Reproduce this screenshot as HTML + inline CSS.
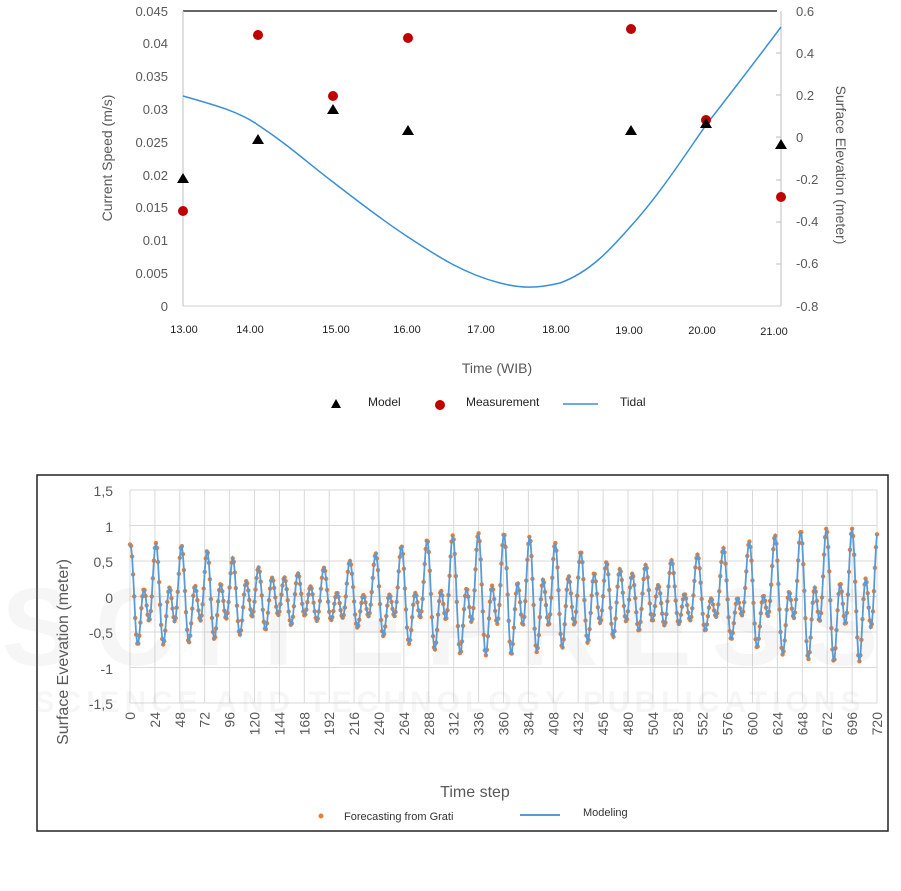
<!DOCTYPE html>
<html><head><meta charset="utf-8"><style>
body{margin:0;background:#fff;width:901px;height:886px;overflow:hidden}
svg text{font-family:"Liberation Sans",sans-serif}
</style></head><body>
<svg id="s" width="901" height="886" xmlns="http://www.w3.org/2000/svg">
<g font-size="13" fill="#595959">
<line x1="183" y1="11" x2="777" y2="11" stroke="#333" stroke-width="1.5"/>
<line x1="183" y1="11" x2="183" y2="306" stroke="#bfbfbf"/>
<line x1="183" y1="306" x2="781" y2="306" stroke="#d0d0d0"/>
<line x1="781" y1="11" x2="781" y2="306" stroke="#bfbfbf"/>
<g text-anchor="end">
<text x="168" y="16">0.045</text><text x="168" y="48">0.04</text><text x="168" y="81">0.035</text>
<text x="168" y="114">0.03</text><text x="168" y="147">0.025</text><text x="168" y="180">0.02</text>
<text x="168" y="212">0.015</text><text x="168" y="245">0.01</text><text x="168" y="278">0.005</text>
<text x="168" y="311">0</text></g>
<g>
<text x="796" y="16">0.6</text><text x="796" y="58">0.4</text><text x="796" y="100">0.2</text>
<text x="796" y="142">0</text><text x="796" y="184">-0.2</text><text x="796" y="226">-0.4</text>
<text x="796" y="268">-0.6</text><text x="796" y="311">-0.8</text></g>
<g stroke="#bfbfbf"><line x1="776" y1="53" x2="781" y2="53"/><line x1="776" y1="95" x2="781" y2="95"/><line x1="776" y1="137" x2="781" y2="137"/><line x1="776" y1="180" x2="781" y2="180"/><line x1="776" y1="222" x2="781" y2="222"/><line x1="776" y1="264" x2="781" y2="264"/></g>
<g font-family="Liberation Serif" font-size="11" fill="#222" text-anchor="middle">
<text x="184" y="333">13.00</text><text x="250" y="333">14.00</text><text x="336" y="333">15.00</text>
<text x="407" y="333">16.00</text><text x="481" y="333">17.00</text><text x="556" y="333">18.00</text>
<text x="629" y="334">19.00</text><text x="702" y="334">20.00</text><text x="774" y="335">21.00</text></g>
<text x="497" y="373" text-anchor="middle" font-size="14">Time (WIB)</text>
<text transform="translate(112,158) rotate(-90)" text-anchor="middle" font-size="14">Current Speed (m/s)</text>
<text transform="translate(836,165) rotate(90)" text-anchor="middle" font-size="14">Surface Elevation (meter)</text>
</g>
<path d="M183,96 C215,105 240,112 258,125 C290,146 310,165 333,182 C360,203 385,222 408,237 C440,258 465,274 500,283 C520,288 535,289 560,283 C590,272 610,250 631,226 C660,194 685,155 706,125 C735,88 760,55 781,27" fill="none" stroke="#3a8fd6" stroke-width="1.5"/>
<g fill="#c00000"><circle cx="183" cy="211" r="5"/><circle cx="258" cy="35" r="5"/><circle cx="333" cy="96" r="5"/><circle cx="408" cy="38" r="5"/><circle cx="631" cy="29" r="5"/><circle cx="706" cy="120" r="5"/><circle cx="781" cy="197" r="5"/></g>
<g fill="#000" id="tri"></g>
<g font-family="Liberation Serif" font-size="12" fill="#222">
<path d="M336,399 l5,9 h-10z" fill="#000"/><text x="368" y="406">Model</text>
<circle cx="440" cy="405" r="5" fill="#c00000"/><text x="466" y="406">Measurement</text>
<line x1="563" y1="404" x2="598" y2="404" stroke="#3a8fd6" stroke-width="1.5"/><text x="620" y="406">Tidal</text>
</g>
<rect x="37" y="475" width="851" height="356" fill="none" stroke="#222" stroke-width="1.5"/>
<g id="grid" stroke="#d9d9d9" stroke-width="1"></g>
<g id="data"></g>
<g font-size="14" fill="#595959" text-anchor="end">
<text x="113" y="496">1,5</text><text x="113" y="532">1</text><text x="113" y="567">0,5</text>
<text x="113" y="603">0</text><text x="113" y="638">-0,5</text><text x="113" y="674">-1</text><text x="113" y="709">-1,5</text>
</g>
<g id="xl" font-size="14" fill="#595959"></g>
<text transform="translate(68,652) rotate(-90)" text-anchor="middle" font-size="16" fill="#595959">Surface Evevation (meter)</text>
<text x="475" y="797" text-anchor="middle" font-size="16" fill="#595959">Time step</text>
<circle cx="321" cy="816" r="2.5" fill="#ed7d31"/>
<text x="344" y="820" font-size="11" fill="#333">Forecasting from Grati</text>
<line x1="520" y1="815" x2="560" y2="815" stroke="#5b9bd5" stroke-width="2"/>
<text x="583" y="816" font-size="11" fill="#333">Modeling</text>
<g fill="#888" opacity="0.07" font-weight="bold">
<text x="450" y="665" text-anchor="middle" font-size="110" letter-spacing="20">SCITEPRESS</text>
<text x="450" y="712" text-anchor="middle" font-size="30" letter-spacing="5">SCIENCE AND TECHNOLOGY PUBLICATIONS</text>
</g>
</svg>
<script>
var NS="http://www.w3.org/2000/svg";
function el(p,t,a){var e=document.createElementNS(NS,t);for(var k in a)e.setAttribute(k,a[k]);p.appendChild(e);return e;}
var tri=document.getElementById('tri');
[[183,179],[258,140],[333,110],[408,131],[631,131],[706,124],[781,145]].forEach(function(p){
el(tri,'path',{d:'M'+p[0]+','+(p[1]-6)+' l6,10 h-12z'});});
var x0=130,x1=877,sx=(x1-x0)/720,y0=596.5,sy=71;
var g=document.getElementById('grid');
for(var i=0;i<=30;i++){var x=x0+i*24*sx;el(g,'line',{x1:x,y1:490,x2:x,y2:703});
var t=el(document.getElementById('xl'),'text',{transform:'translate('+(x+5)+',712) rotate(-90)','text-anchor':'end'});t.textContent=i*24;}
for(var j=0;j<7;j++){var y=490+j*35.5;el(g,'line',{x1:x0,y1:y,x2:x1,y2:y});}
var d=document.getElementById('data'),pts=[];
for(var n=0;n<=720;n++){
var h=n,ramp=1.0+0.4*Math.pow(n/720,0.7);
var v=ramp*(0.34*Math.cos(2*Math.PI*h/12.42-0.3)+0.1*Math.cos(2*Math.PI*h/12-0.5)
+0.22*Math.cos(2*Math.PI*h/23.93+0.4)+0.15*Math.cos(2*Math.PI*h/25.82+0.2))-0.03;
pts.push([x0+n*sx,y0-v*sy]);}
pts.forEach(function(p){el(d,'circle',{cx:p[0].toFixed(1),cy:p[1].toFixed(1),r:2.2,fill:'#ed7d31'});});
el(d,'polyline',{points:pts.map(function(p){return p[0].toFixed(1)+','+p[1].toFixed(1)}).join(' '),fill:'none',stroke:'#5b9bd5','stroke-width':1.8});
</script>
</body></html>
